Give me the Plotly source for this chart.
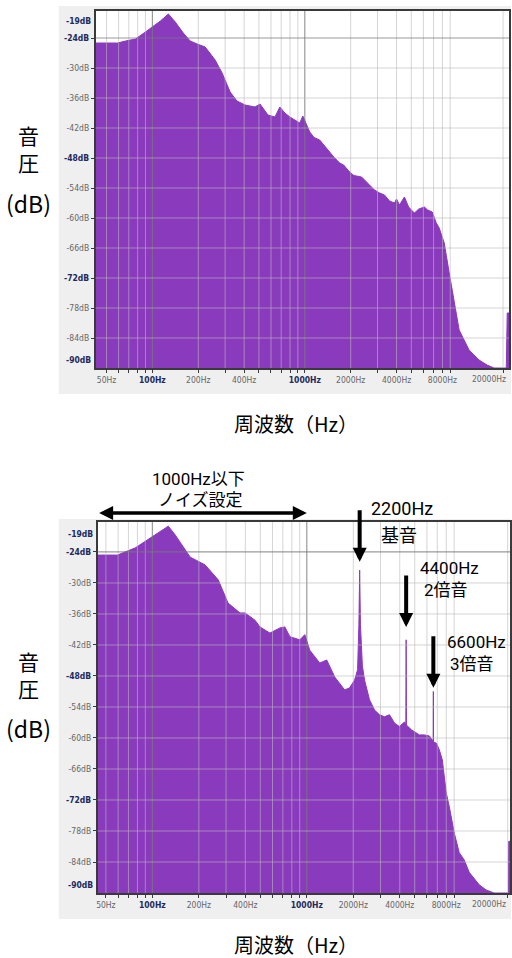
import math
import plotly.graph_objects as go

# ---------------- data ----------------
TOP_FREQ = [42.4, 49.3, 59, 66.6, 77.4, 90, 100, 112.8, 127.3, 141.3, 159.5, 177, 196.8,
            222, 258, 286.8, 323.6, 359, 405.5, 471, 508, 573, 637, 686, 740, 798, 927,
            970, 1078, 1150, 1253, 1350, 1456, 1550, 1693, 1800, 1968, 2100, 2358, 2500,
            2650, 2867, 3100, 3334, 3600, 3875, 4000, 4178, 4506, 4800, 5237, 5600, 6087,
            6400, 6866, 7290, 7621, 8222, 8869, 9561, 10300, 11970, 13920, 15700, 17450,
            21000, 21300, 21880]
TOP_DB = [-25, -25, -25, -24.6, -24.2, -22.8, -21.8, -20.6, -19.2, -20.8, -23, -24.6, -25.2,
          -25.8, -28.4, -31, -34.8, -36.6, -37.4, -37.8, -37.2, -39.4, -39.8, -37.8, -39, -39.8, -41,
          -39.6, -42.8, -43.9, -44.4, -45.6, -47, -47.8, -49, -49.4, -50.8, -51.5, -51.8, -52.6,
          -53.4, -54.4, -55.0, -55.4, -56.6, -57, -56.2, -57.4, -55.8, -57.8, -59, -58.2, -57.8,
          -58.4, -58.8, -61, -62, -65, -71, -77, -82.4, -86.4, -88.4, -89.4, -90,
          -90, -79, -79]

BOT_FREQ = [44.2, 59.4, 77.6, 100, 112.6, 126.8, 140.6, 158.5, 175.8, 219.6, 266.9, 309.3,
            369.5, 398, 461.8, 497.6, 577, 670, 721, 777, 901, 971, 1045, 1213, 1346, 1517,
            1759, 1893, 2040, 2133, 2175, 2200, 2225, 2290, 2366, 2548, 2746, 2958, 3186,
            3431, 3697, 3982, 4289, 4380, 4400, 4420, 4755, 5356, 5770, 6217, 6502, 6580,
            6600, 6620, 6903, 7215, 7541, 7998, 8372, 9018, 9712, 10460, 11270, 13070, 14490,
            16320, 18930, 20250, 20300, 20700]
BOT_DB = [-24.6, -24.6, -23.2, -21.1, -20, -19, -20.7, -23, -25, -26.5, -29.4, -33.9,
          -35.8, -35.8, -37.2, -38.5, -39.7, -38.7, -38.5, -40.4, -41, -40, -43, -45.5, -44.9, -48.2,
          -50.7, -50.3, -48.8, -46.8, -38, -27.5, -38, -46, -48.8, -52.6, -54.6, -55.5, -55.9,
          -55.5, -57.1, -57.8, -56.9, -57.5, -41, -57.5, -58.4, -59.4, -59.4, -59.6, -60.4, -60.6,
          -51, -60.8, -61, -62.3, -64.2, -70.6, -73.3, -78.4, -82.2, -83.6, -86, -88.4, -89.4,
          -90, -90, -90, -80, -80]

FLOOR_DB = -95

GRID_FREQS = [50, 60, 70, 80, 90, 100, 200, 300, 400, 500, 600, 700, 800, 900,
              1000, 2000, 3000, 4000, 5000, 6000, 7000, 8000, 9000, 20000]
DECADE_FREQS = [100, 1000]
FREQ_LABELS = {50: "50Hz", 100: "<b><span style='color:#1c2a60'>100Hz</span></b>",
               200: "200Hz", 400: "400Hz",
               1000: "<b><span style='color:#1c2a60'>1000Hz</span></b>",
               2000: "2000Hz", 4000: "4000Hz", 8000: "8000Hz"}
EDGE_FREQ_LABEL = "20000Hz"

DB_TICKS = [-24, -30, -36, -42, -48, -54, -60, -66, -72, -78, -84]
BOLD_DB = [-24, -48, -72]
DB_TOP_LABEL = -19
DB_BOTTOM = -90

HARMONICS = [2200, 4400, 6600]
HARMONIC_TIP_DB = [-25.9, -38.5, -50.3]
NOISE_LIMIT = 1000

# ---------------- layout constants ----------------
W, H = 512, 958
PURPLE = "#8a3abd"
CJK = "Noto Sans CJK JP"
LABELFONT = "Roboto, Noto Sans CJK JP"
TICKFONT = "DejaVu Sans Condensed, DejaVu Sans, sans-serif"
TICKSIZE = 8.5


def px_x(p):
    return p / W


def px_y(p):
    return 1 - p / H


def note(x, y, text, size, family=CJK, **kw):
    d = dict(xref="paper", yref="paper", x=px_x(x), y=px_y(y), xanchor="center",
             yanchor="middle", showarrow=False, text=text,
             font=dict(size=size, family=family, color="black"))
    d.update(kw)
    return d


panels = [
    dict(xa="x", ya="y", freq=TOP_FREQ, db=TOP_DB, xdom=[px_x(95), px_x(510)],
         ydom=[px_y(368), px_y(11)], xr=[42.4, 21880], yr=[-90, -18.6],
         box=(58, 6, 512, 394), yt=(149, 203), xt=423),
    dict(xa="x2", ya="y2", freq=BOT_FREQ, db=BOT_DB, xdom=[px_x(97), px_x(511)],
         ydom=[px_y(893), px_y(522)], xr=[44.2, 20700], yr=[-90, -18.2],
         box=(58, 519, 512, 919), yt=(674, 728), xt=944),
]

fig = go.Figure()
shapes = []
annotations = []
layout = {}

for i, p in enumerate(panels):
    fig.add_trace(go.Scatter(x=p["freq"], y=[FLOOR_DB] * len(p["freq"]), mode="lines",
                             line=dict(width=0, color=PURPLE), showlegend=False,
                             hoverinfo="skip", xaxis=p["xa"], yaxis=p["ya"]))
    fig.add_trace(go.Scatter(x=p["freq"], y=p["db"], mode="lines", fill="tonexty",
                             fillcolor=PURPLE, line=dict(width=1, color=PURPLE),
                             showlegend=False, xaxis=p["xa"], yaxis=p["ya"]))

    xname = "xaxis" if i == 0 else "xaxis2"
    yname = "yaxis" if i == 0 else "yaxis2"
    ticktext = [FREQ_LABELS.get(f, "") for f in GRID_FREQS]
    layout[xname] = dict(
        type="log", domain=p["xdom"], anchor=p["ya"],
        range=[math.log10(p["xr"][0]), math.log10(p["xr"][1])],
        showgrid=False, zeroline=False, showline=True, linecolor="#3a3a3a", linewidth=1.5,
        mirror=True, ticks="outside", ticklen=3, tickcolor="#3a3a3a",
        tickvals=GRID_FREQS, ticktext=ticktext,
        tickfont=dict(size=TICKSIZE, family=TICKFONT, color="#666"))
    ytext = [("<b><span style='color:#1c2a60'>%ddB</span></b>" % d) if d in BOLD_DB
             else "%ddB" % d for d in DB_TICKS]
    layout[yname] = dict(
        domain=p["ydom"], anchor=p["xa"], range=p["yr"],
        showgrid=False, zeroline=False, showline=True, linecolor="#3a3a3a", linewidth=1.5,
        mirror=True, ticks="outside", ticklen=3, tickcolor="#3a3a3a",
        tickvals=DB_TICKS, ticktext=ytext,
        tickfont=dict(size=TICKSIZE, family=TICKFONT, color="#666"))

    # gray panel background + white plotting area
    bx0, by0, bx1, by1 = p["box"]
    shapes.append(dict(type="rect", xref="paper", yref="paper", x0=px_x(bx0), x1=px_x(bx1),
                       y0=px_y(by1), y1=px_y(by0), fillcolor="#efefef",
                       line=dict(width=0), layer="below"))
    shapes.append(dict(type="rect", xref=p["xa"] + " domain", yref=p["ya"] + " domain",
                       x0=0, x1=1, y0=0, y1=1, fillcolor="white",
                       line=dict(width=0), layer="below"))
    # grid lines drawn above the fill
    for f in GRID_FREQS:
        dark = f in DECADE_FREQS
        shapes.append(dict(type="line", xref=p["xa"], yref=p["ya"] + " domain",
                           x0=f, x1=f, y0=0, y1=1, layer="above",
                           line=dict(width=1.2 if dark else 1,
                                     color="rgba(120,120,120,0.75)" if dark
                                     else "rgba(185,185,185,0.6)")))
    for d in DB_TICKS:
        dark = d == -24
        shapes.append(dict(type="line", xref=p["xa"] + " domain", yref=p["ya"],
                           x0=0, x1=1, y0=d, y1=d, layer="above",
                           line=dict(width=1.2 if dark else 1,
                                     color="rgba(120,120,120,0.75)" if dark
                                     else "rgba(185,185,185,0.6)")))

    # extra y labels at the top and bottom edges
    for val, shift in ((DB_TOP_LABEL, -8), (DB_BOTTOM, 8)):
        annotations.append(dict(xref="paper", yref=p["ya"], x=p["xdom"][0] - px_x(3), y=val,
                                yshift=shift, xanchor="right", yanchor="middle",
                                showarrow=False, text="<b>%ddB</b>" % val,
                                font=dict(size=TICKSIZE, family=TICKFONT, color="#1c2a60")))
    # 20000Hz label, pulled inside the right edge
    annotations.append(dict(xref="paper", yref=p["ya"], x=px_x(490), y=DB_BOTTOM,
                            yshift=-11, xanchor="center", yanchor="middle",
                            showarrow=False, text=EDGE_FREQ_LABEL,
                            font=dict(size=TICKSIZE, family=TICKFONT, color="#666")))

    # axis titles
    t12, t3 = p["yt"]
    annotations.append(note(28, t12, "音<br>圧", 21))
    annotations.append(note(28, t3, "(dB)", 23))
    annotations.append(note(296, p["xt"], "周波数（Hz）", 20))

# ---- bottom panel annotations ----
# double-headed arrow spanning the noise band (log axis -> positions in log10)
annotations.append(dict(xref="x2", yref="paper", x=math.log10(NOISE_LIMIT), y=px_y(513),
                        axref="x2", ayref="pixel", ax=math.log10(BOT_FREQ[0]), ay=0,
                        text="", showarrow=True, arrowside="end+start",
                        arrowhead=2, startarrowhead=2, arrowsize=0.8, startarrowsize=0.8,
                        arrowwidth=3.5, arrowcolor="black"))
annotations.append(note(198, 479, "1000Hz以下", 17, LABELFONT))
annotations.append(note(200, 500, "ノイズ設定", 17, LABELFONT))

for f, tip in zip(HARMONICS, HARMONIC_TIP_DB):
    annotations.append(dict(xref="x2", yref="y2", x=math.log10(f), y=tip, ax=0, ay=-53,
                            text="", showarrow=True, arrowhead=2, arrowsize=0.7,
                            arrowwidth=4, arrowcolor="black"))

annotations.append(note(403, 508, "2200Hz", 18, LABELFONT))
annotations.append(note(400, 535, "基音", 18, LABELFONT))
annotations.append(note(450, 568, "4400Hz", 17, LABELFONT))
annotations.append(note(447, 590, "2倍音", 17, LABELFONT))
annotations.append(note(477, 642, "6600Hz", 17, LABELFONT))
annotations.append(note(473, 664, "3倍音", 17, LABELFONT))

fig.update_layout(width=W, height=H, margin=dict(l=0, r=0, t=0, b=0),
                  paper_bgcolor="white", plot_bgcolor="rgba(0,0,0,0)",
                  showlegend=False, shapes=shapes, annotations=annotations, **layout)

fig.write_html("out.html", config={"displayModeBar": False},
               post_script="document.body.style.margin='0';document.body.style.overflow='hidden';")
